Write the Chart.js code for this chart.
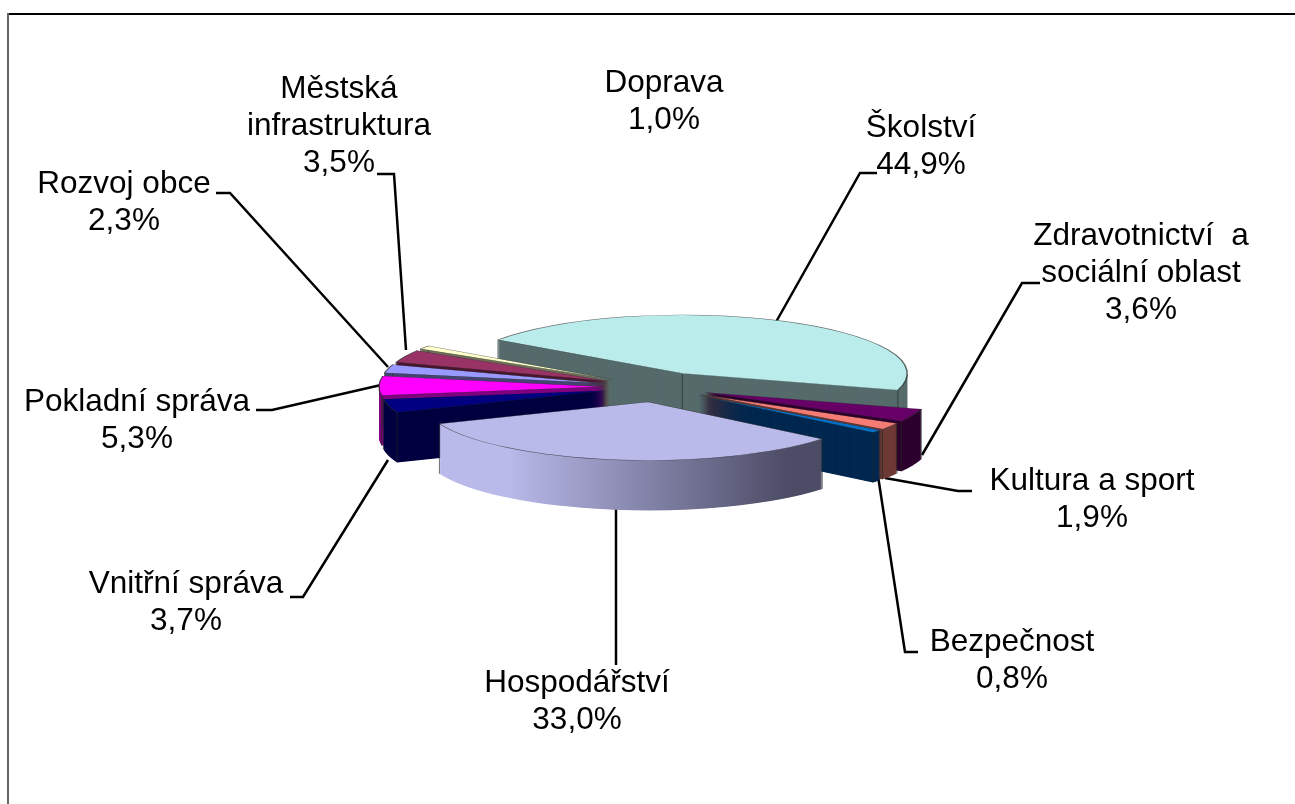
<!DOCTYPE html>
<html>
<head>
<meta charset="utf-8">
<title>Výdaje</title>
<script src="https://cdn.jsdelivr.net/npm/chart.js@4"></script>
<style>
  html, body { margin: 0; padding: 0; background: #fff; overflow: hidden; }
  canvas { display: block; }
</style>
</head>
<body>
<canvas id="pie" width="1295" height="804"></canvas>
<script>
const categories = ['Školství', 'Zdravotnictví a sociální oblast', 'Kultura a sport', 'Bezpečnost', 'Hospodářství', 'Vnitřní správa', 'Pokladní správa', 'Rozvoj obce', 'Městská infrastruktura', 'Doprava'];
const shares = [44.9, 3.6, 1.9, 0.8, 33.0, 3.7, 5.3, 2.3, 3.5, 1.0];
const topColors = ['#BAECEC', '#660066', '#F47C74', '#0070C8', '#B9B9EA', '#000080', '#FF00FF', '#9999FF', '#993366', '#FFFFCC'];
const wallColors = ['#566B6B', '#2E002E', '#6E3A36', '#002850', '#B9B9EA', '#000040', '#800080', '#454570', '#4A1830', '#70705A'];

// back to front, later slices cover the earlier ones
const paintOrder = [0, 9, 8, 7, 6, 5, 1, 2, 3, 4];

const SQUASH = 0.26;
const DEPTH = 50;
const EXPLODE_BIG = 58;
const EXPLODE_THIN = 53;

// label text: wrapped lines, centre x, y of the first line
const labelSpots = [
  { lines: ['Školství'], x: 921, y: 127 },
  { lines: ['Zdravotnictví  a', 'sociální oblast'], x: 1141, y: 235 },
  { lines: ['Kultura a sport'], x: 1092, y: 480 },
  { lines: ['Bezpečnost'], x: 1012, y: 641 },
  { lines: ['Hospodářství'], x: 577, y: 682 },
  { lines: ['Vnitřní správa'], x: 186, y: 583 },
  { lines: ['Pokladní správa'], x: 137, y: 401 },
  { lines: ['Rozvoj obce'], x: 124, y: 183 },
  { lines: ['Městská', 'infrastruktura'], x: 339, y: 88 },
  { lines: ['Doprava'], x: 664, y: 82 }
];

const leaderLines = [
  [[877, 173], [860, 173], [776, 322]],
  [[1040, 283], [1022, 283], [922, 455]],
  [[972, 491], [958, 491], [885, 478]],
  [[918, 652], [905, 652], [878, 476]],
  [[616, 665], [616, 505]],
  [[290, 597], [303, 597], [388, 460]],
  [[256, 410], [272, 410], [381, 385]],
  [[216, 193], [230, 193], [388, 367]],
  [[377, 174], [394, 174], [406, 350]]
];

function percent(v) {
  return v.toFixed(1).replace('.', ',') + '%';
}

// ─── squashed, extruded pie: the arcs come from the doughnut controller ───
const pie3d = {
  id: 'pie3d',
  beforeDraw(chart) {
    const ctx = chart.ctx;
    ctx.save();
    ctx.fillStyle = '#fff';
    ctx.fillRect(0, 0, chart.width, chart.height);
    ctx.fillStyle = '#000';
    ctx.fillRect(7, 13, chart.width - 7, 2);
    ctx.fillStyle = '#666';
    ctx.fillRect(7, 13, 2, chart.height - 13);
    ctx.restore();
  },
  beforeDatasetsDraw(chart) {
    const ctx = chart.ctx;
    const arcs = chart.getDatasetMeta(0).data;

    ctx.save();
    ctx.strokeStyle = '#000';
    ctx.lineWidth = 2.5;
    leaderLines.forEach(pts => {
      ctx.beginPath();
      pts.forEach((p, i) => i ? ctx.lineTo(p[0], p[1]) : ctx.moveTo(p[0], p[1]));
      ctx.stroke();
    });
    ctx.restore();

    paintOrder.forEach(i => {
      const arc = arcs[i];
      const big = shares[i] > 10;
      const explode = big ? EXPLODE_BIG : EXPLODE_THIN;
      const mid = (arc.startAngle + arc.endAngle) / 2;
      const dx = Math.cos(mid) * explode;
      const dy = Math.sin(mid) * explode * SQUASH;
      const r = arc.outerRadius;
      const topOptions = arc.options;

      let wall = wallColors[i];
      if (i === 4) {
        wall = ctx.createLinearGradient(arc.x - r * 0.62, 0, arc.x + r * 0.62, 0);
        wall.addColorStop(0, '#B9B9EA');
        wall.addColorStop(1, '#4C4C66');
      }
      const place = lift => {
        ctx.translate(dx, arc.y + dy + lift);
        ctx.scale(1, SQUASH);
        ctx.translate(0, -arc.y);
      };

      arc.options = Object.assign({}, topOptions, { backgroundColor: wall, borderWidth: 0 });
      for (let d = DEPTH; d >= 0.5; d -= 0.5) {
        ctx.save();
        place(d);
        arc.draw(ctx);
        ctx.restore();
      }
      arc.options = topOptions;

      // edges of the wall; the apex edge only shows on the two large slices
      ctx.save();
      ctx.strokeStyle = 'rgba(30,40,40,0.65)';
      ctx.lineWidth = 1;
      const corners = [
        [arc.x + Math.cos(arc.startAngle) * r, arc.y + Math.sin(arc.startAngle) * r * SQUASH],
        [arc.x + Math.cos(arc.endAngle) * r, arc.y + Math.sin(arc.endAngle) * r * SQUASH]];
      if (big) corners.push([arc.x, arc.y]);
      corners.forEach(c => {
        ctx.beginPath();
        ctx.moveTo(c[0] + dx, c[1] + dy);
        ctx.lineTo(c[0] + dx, c[1] + dy + DEPTH);
        ctx.stroke();
      });
      ctx.restore();

      ctx.save();
      place(0);
      arc.draw(ctx);
      ctx.restore();
    });
    return false;
  },
  afterDraw(chart) {
    const ctx = chart.ctx;
    ctx.save();
    ctx.fillStyle = '#000';
    ctx.font = '31.5px "Liberation Sans", Arial, sans-serif';
    ctx.textAlign = 'center';
    ctx.textBaseline = 'middle';
    labelSpots.forEach((spot, i) => {
      const rows = spot.lines.concat(percent(shares[i]));
      rows.forEach((t, k) => ctx.fillText(t, spot.x, spot.y + 1 + k * 37));
    });
    ctx.restore();
  }
};

new Chart(document.getElementById('pie'), {
  type: 'pie',
  data: {
    labels: categories,
    datasets: [{
      data: shares,
      backgroundColor: topColors,
      borderColor: 'rgba(40,40,40,0.7)',
      borderWidth: 1.5
    }]
  },
  options: {
    responsive: false,
    animation: false,
    rotation: -55,
    radius: 225,
    layout: { padding: { left: 19, bottom: 30 } },
    plugins: { legend: { display: false }, tooltip: { enabled: false } }
  },
  plugins: [pie3d]
});
</script>
</body>
</html>
